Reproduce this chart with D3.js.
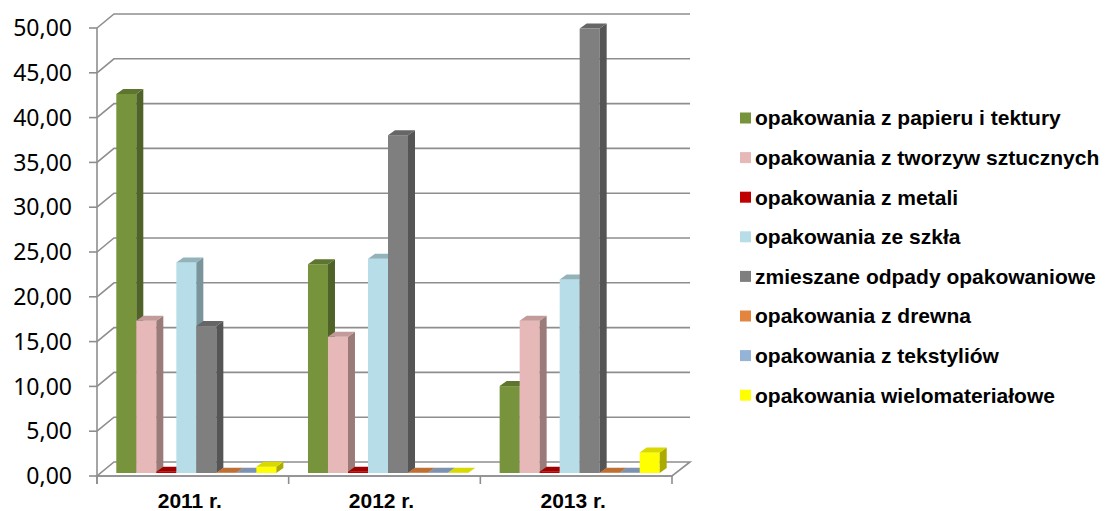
<!DOCTYPE html>
<html>
<head>
<meta charset="utf-8">
<script src="https://cdn.jsdelivr.net/npm/d3@7"></script>
<style>
  body { margin: 0; background: #fff; }
  .tick-label { font-family: 'Noto Sans', sans-serif; font-size: 23px; fill: #000; }
  .cat-label { font-family: 'Liberation Sans', Arial, sans-serif; font-size: 21px; font-weight: bold; fill: #000; }
  .legend-label { font-family: 'Liberation Sans', Arial, sans-serif; font-size: 21px; font-weight: bold; fill: #000; }
</style>
</head>
<body>
<div id="chart"></div>
<script>
const categories = ['2011 r.', '2012 r.', '2013 r.'];
const seriesNames = [
  'opakowania z papieru i tektury',
  'opakowania z tworzyw sztucznych',
  'opakowania z metali',
  'opakowania ze szkła',
  'zmieszane odpady opakowaniowe',
  'opakowania z drewna',
  'opakowania z tekstyliów',
  'opakowania wielomateriałowe'
];
const papier = [42.3, 23.3, 9.7];
const tworzywa = [17.0, 15.2, 17.0];
const metale = [0.15, 0.15, 0.15];
const szklo = [23.5, 23.9, 21.6];
const zmieszane = [16.4, 37.7, 49.6];
const drewno = [0.02, 0.02, 0.02];
const tekstylia = [0.02, 0.02, 0.02];
const wielomaterialowe = [0.7, 0.02, 2.3];
const yTicks = [0, 5, 10, 15, 20, 25, 30, 35, 40, 45, 50];

const seriesValues = [papier, tworzywa, metale, szklo, zmieszane, drewno, tekstylia, wielomaterialowe];
// front, side, top
const colors = [
  ['#77933C', '#4F6228', '#5E7530'],
  ['#E6B9B8', '#9A7B7A', '#C29B9A'],
  ['#C00000', '#800000', '#A00000'],
  ['#B7DEE8', '#7A949B', '#93B3BB'],
  ['#7F7F7F', '#555555', '#666666'],
  ['#E3853F', '#975829', '#C06F32'],
  ['#95B3D7', '#63778F', '#7D91B0'],
  ['#FFFF00', '#AAAA00', '#D9D900']
];

const width = 1107, height = 511;
const depthX = 17, depthY = 14;     // wall depth
const barOffX = 3.5, barOffY = 3;   // bar plane offset from front
const barDX = 7, barDY = 5;         // bar depth
const gridColor = '#8e8e8e';

const svg = d3.select('#chart').append('svg')
  .attr('width', width).attr('height', height);

const x = d3.scaleBand().domain(categories).range([97, 672]);
const xInner = d3.scaleBand().domain(seriesNames).range([0, x.bandwidth()]).paddingOuter(0.79);
const y = d3.scaleLinear().domain([0, 50]).range([476, 28]);

const x0 = x.range()[0], x1 = x.range()[1];

// back wall gridlines + left wall diagonals
const grid = svg.append('g').attr('fill', 'none').attr('stroke', gridColor).attr('stroke-width', 1.6);
grid.selectAll('.gl')
  .data(yTicks.slice(1))
  .enter()
  .append('path')
  .attr('d', d => 'M' + x0 + ',' + y(d) + ' L' + (x0 + depthX) + ',' + (y(d) - depthY) +
    ' L' + (x1 + depthX + 1) + ',' + (y(d) - depthY));

// floor
grid.append('path')
  .attr('fill', '#fff')
  .attr('d', 'M' + x0 + ',' + y(0) + ' L' + x1 + ',' + y(0) + ' L' + (x1 + depthX + 1) + ',' + (y(0) - depthY) +
    ' L' + (x0 + depthX) + ',' + (y(0) - depthY) + ' Z');

// bars
const bars = [];
categories.forEach((c, ci) => {
  seriesNames.forEach((s, si) => {
    bars.push({cat: c, series: s, si: si, value: seriesValues[si][ci]});
  });
});

const barG = svg.append('g');
bars.forEach(b => {
  const bx = x(b.cat) + xInner(b.series) + barOffX;
  const bw = xInner.bandwidth();
  const yb = y(0) - barOffY;
  const yt = y(b.value) - barOffY;
  const g = barG.append('g');
  g.append('rect')
    .attr('x', bx).attr('y', yt).attr('width', bw).attr('height', Math.max(0, yb - yt))
    .attr('fill', colors[b.si][0]);
  g.append('path')
    .attr('d', 'M' + (bx + bw) + ',' + yt + ' L' + (bx + bw + barDX) + ',' + (yt - barDY) +
      ' L' + (bx + bw + barDX) + ',' + (yb - barDY) + ' L' + (bx + bw) + ',' + yb + ' Z')
    .attr('fill', colors[b.si][1]);
  g.append('path')
    .attr('d', 'M' + bx + ',' + yt + ' L' + (bx + barDX) + ',' + (yt - barDY) +
      ' L' + (bx + bw + barDX) + ',' + (yt - barDY) + ' L' + (bx + bw) + ',' + yt + ' Z')
    .attr('fill', colors[b.si][2]);
});

// axes
const axisG = svg.append('g').attr('stroke', gridColor).attr('stroke-width', 1.6).attr('fill', 'none');
axisG.append('line').attr('x1', x0).attr('x2', x0).attr('y1', y(50)).attr('y2', y(0) + 8);
axisG.selectAll('.yt').data(yTicks).enter().append('line')
  .attr('x1', x0 - 8).attr('x2', x0).attr('y1', d => y(d)).attr('y2', d => y(d));
axisG.append('line').attr('x1', x0).attr('x2', x1).attr('y1', y(0)).attr('y2', y(0));
axisG.selectAll('.xt').data(categories.concat(['end'])).enter().append('line')
  .attr('x1', d => d === 'end' ? x1 : x(d)).attr('x2', d => d === 'end' ? x1 : x(d))
  .attr('y1', y(0)).attr('y2', y(0) + 8);

svg.append('g').selectAll('.tick-label')
  .data(yTicks)
  .enter()
  .append('text')
  .attr('class', 'tick-label')
  .attr('x', 72)
  .attr('y', d => y(d))
  .attr('dy', '0.36em')
  .attr('text-anchor', 'end')
  .text(d => d3.format('.2f')(d).replace('.', ','));

svg.append('g').selectAll('.cat-label')
  .data(categories)
  .enter()
  .append('text')
  .attr('class', 'cat-label')
  .attr('x', d => x(d) + x.bandwidth() / 2 - 3)
  .attr('y', 508)
  .attr('text-anchor', 'middle')
  .text(d => d);

// legend
const legend = svg.append('g').attr('transform', 'translate(740, 118)');
const row = legend.selectAll('.legend-row')
  .data(seriesNames)
  .enter()
  .append('g')
  .attr('transform', (d, i) => 'translate(0,' + (i * 39.6) + ')');
row.append('rect')
  .attr('x', 0).attr('y', -5.5).attr('width', 11).attr('height', 11)
  .attr('fill', (d, i) => colors[i][0]);
row.append('text')
  .attr('class', 'legend-label')
  .attr('x', 15)
  .attr('dy', '0.35em')
  .text(d => d);
</script>
</body>
</html>
